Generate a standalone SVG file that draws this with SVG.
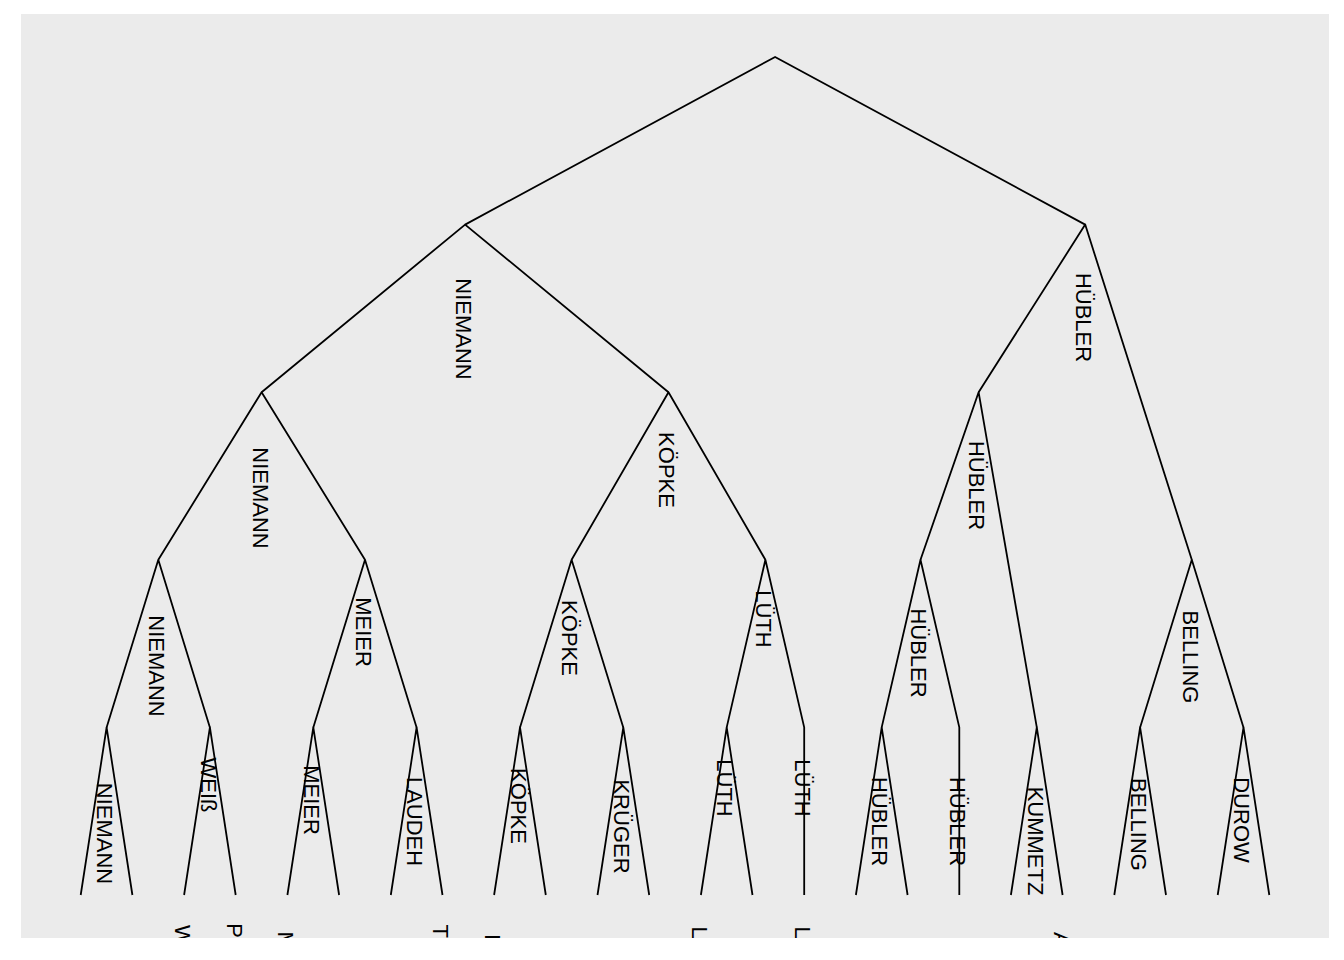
<svg xmlns="http://www.w3.org/2000/svg" width="1344" height="960" viewBox="0 0 1344 960">
  <style>
    .bg { fill: #EBEBEB; }
    .edge { stroke: #000000; stroke-width: 1.8; fill: none; stroke-linejoin: round; stroke-linecap: butt; }
    .lbl { font-family: "Liberation Sans", Arial, sans-serif; font-size: 22px; fill: #000000; text-anchor: middle; }
    .tip { font-family: "Liberation Sans", Arial, sans-serif; font-size: 22px; fill: #000000; text-anchor: start; }
  </style>
  <defs>
    <clipPath id="panel">
      <rect x="21" y="14" width="1308" height="924"/>
    </clipPath>
  </defs>
  <rect width="1344" height="960" fill="#FFFFFF"/>
  <rect class="bg" x="21" y="14" width="1308" height="924"/>

  <g id="connectors" clip-path="url(#panel)">
    <polyline class="edge" points="465.1,224.6 775.1,57 1085.2,224.6"/>
    <polyline class="edge" points="261.6,392.2 465.1,224.6 668.5,392.2"/>
    <polyline class="edge" points="978.6,392.2 1085.2,224.6 1191.8,559.8"/>
    <polyline class="edge" points="158.3,559.8 261.6,392.2 365,559.8"/>
    <polyline class="edge" points="571.6,559.8 668.5,392.2 765.4,559.8"/>
    <polyline class="edge" points="920.5,559.8 978.6,392.2 1036.8,727.4"/>
    <polyline class="edge" points="106.6,727.4 158.3,559.8 209.9,727.4"/>
    <polyline class="edge" points="313.3,727.4 365,559.8 416.6,727.4"/>
    <polyline class="edge" points="520,727.4 571.6,559.8 623.3,727.4"/>
    <polyline class="edge" points="726.7,727.4 765.4,559.8 804.2,727.4 804.2,895"/>
    <polyline class="edge" points="881.7,727.4 920.5,559.8 959.3,727.4 959.3,895"/>
    <polyline class="edge" points="1140.1,727.4 1191.8,559.8 1243.5,727.4"/>
    <polyline class="edge" points="80.7,895 106.6,727.4 132.4,895"/>
    <polyline class="edge" points="184.1,895 209.9,727.4 235.7,895"/>
    <polyline class="edge" points="287.4,895 313.3,727.4 339.1,895"/>
    <polyline class="edge" points="390.8,895 416.6,727.4 442.5,895"/>
    <polyline class="edge" points="494.1,895 520,727.4 545.8,895"/>
    <polyline class="edge" points="597.5,895 623.3,727.4 649.2,895"/>
    <polyline class="edge" points="700.9,895 726.7,727.4 752.5,895"/>
    <polyline class="edge" points="855.9,895 881.7,727.4 907.6,895"/>
    <polyline class="edge" points="1010.9,895 1036.8,727.4 1062.6,895"/>
    <polyline class="edge" points="1114.3,895 1140.1,727.4 1166,895"/>
    <polyline class="edge" points="1217.7,895 1243.5,727.4 1269.3,895"/>
  </g>

  <g id="n-A"><text class="lbl" transform="translate(456,329) rotate(90)">NIEMANN</text></g>
  <g id="n-B"><text class="lbl" transform="translate(1076,317.5) rotate(90)">HÜBLER</text></g>
  <g id="n-C"><text class="lbl" transform="translate(252.5,498) rotate(90)">NIEMANN</text></g>
  <g id="n-D"><text class="lbl" transform="translate(659.3,470) rotate(90)">KÖPKE</text></g>
  <g id="n-E"><text class="lbl" transform="translate(969.4,485.5) rotate(90)">HÜBLER</text></g>
  <g id="n-G"><text class="lbl" transform="translate(149,666) rotate(90)">NIEMANN</text></g>
  <g id="n-H"><text class="lbl" transform="translate(355.7,632) rotate(90)">MEIER</text></g>
  <g id="n-I"><text class="lbl" transform="translate(562.3,638) rotate(90)">KÖPKE</text></g>
  <g id="n-J"><text class="lbl" transform="translate(756.1,619) rotate(90)">LÜTH</text></g>
  <g id="n-K"><text class="lbl" transform="translate(911.2,653) rotate(90)">HÜBLER</text></g>
  <g id="n-F"><text class="lbl" transform="translate(1182.5,657) rotate(90)">BELLING</text></g>

  <g id="n-L1"><text class="lbl" transform="translate(97.2,833.5) rotate(90)">NIEMANN</text></g>
  <g id="n-L2"><text class="lbl" transform="translate(200.5,785) rotate(90)">WEIß</text></g>
  <g id="n-L3"><text class="lbl" transform="translate(304,800) rotate(90)">MEIER</text></g>
  <g id="n-L4"><text class="lbl" transform="translate(407.3,821.5) rotate(90)">LAUDEH</text></g>
  <g id="n-L5"><text class="lbl" transform="translate(510.7,806) rotate(90)">KÖPKE</text></g>
  <g id="n-L6"><text class="lbl" transform="translate(614,826.5) rotate(90)">KRÜGER</text></g>
  <g id="n-L7"><text class="lbl" transform="translate(717.4,788) rotate(90)">LÜTH</text></g>
  <g id="n-L8"><text class="lbl" transform="translate(794.9,788) rotate(90)">LÜTH</text></g>
  <g id="n-L9"><text class="lbl" transform="translate(872.4,821.5) rotate(90)">HÜBLER</text></g>
  <g id="n-L10"><text class="lbl" transform="translate(950,821.5) rotate(90)">HÜBLER</text></g>
  <g id="n-L11"><text class="lbl" transform="translate(1027.5,841) rotate(90)">KUMMETZ</text></g>
  <g id="n-L12"><text class="lbl" transform="translate(1130.8,824.5) rotate(90)">BELLING</text></g>
  <g id="n-L13"><text class="lbl" transform="translate(1234.2,820) rotate(90)">DUROW</text></g>

  <g id="tips" clip-path="url(#panel)">
    <text class="tip" transform="translate(175,925) rotate(90)">W</text>
    <text class="tip" transform="translate(226.6,923.3) rotate(90)">P</text>
    <text class="tip" transform="translate(278.3,931.4) rotate(90)">M</text>
    <text class="tip" transform="translate(433.4,924.6) rotate(90)">T</text>
    <text class="tip" transform="translate(485,934.3) rotate(90)">B</text>
    <text class="tip" transform="translate(691.8,926.4) rotate(90)">L</text>
    <text class="tip" transform="translate(795.1,926.4) rotate(90)">L</text>
    <text class="tip" transform="translate(1053.5,932) rotate(90)">A</text>
  </g>
</svg>
